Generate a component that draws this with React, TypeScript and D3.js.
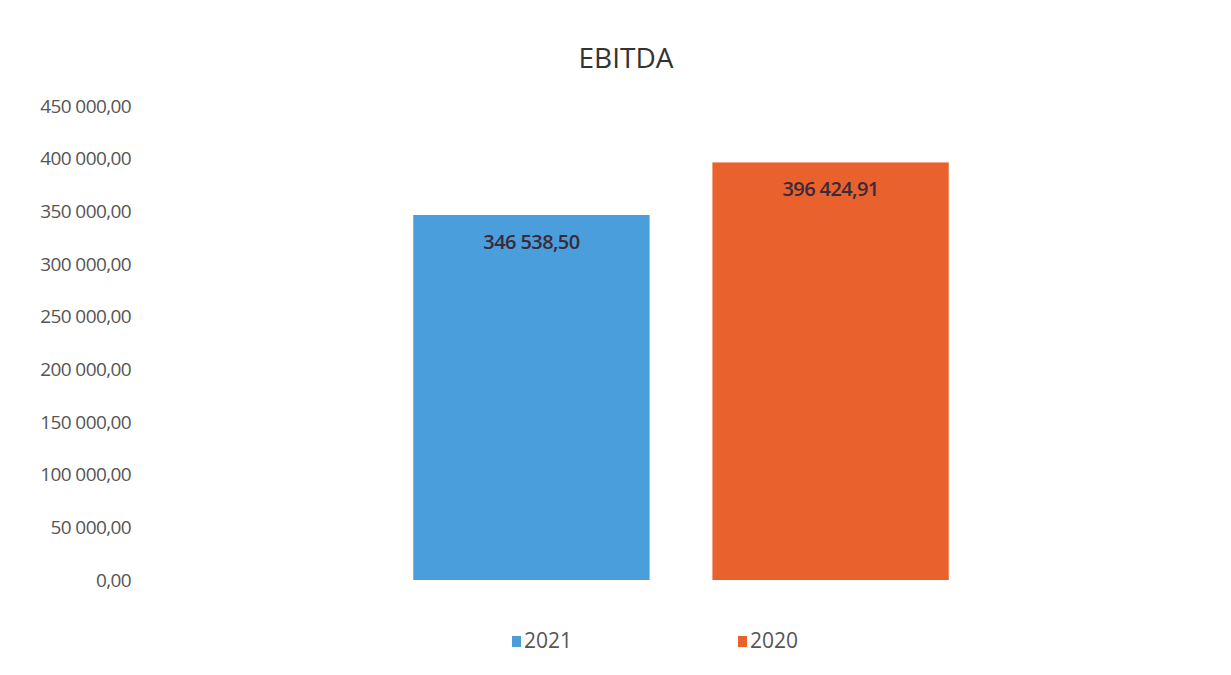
import * as d3 from "d3";
import { useEffect, useRef } from "react";

const series = ["2021", "2020"];
const values = [346538.5, 396424.91];
const colors = ["#4a9edb", "#e9622e"];
const tickValues = [0, 50000, 100000, 150000, 200000, 250000, 300000, 350000, 400000, 450000];
const title = "EBITDA";

const W = 1231;
const H = 675;
const FONT = "'Open Sans', 'Noto Sans', sans-serif";

const locale = d3.formatLocale({
  decimal: ",",
  thousands: " ",
  grouping: [3],
  currency: ["", ""],
});
const fmt = locale.format(",.2f");

export default function App() {
  const ref = useRef<SVGSVGElement>(null);

  useEffect(() => {
    if (!ref.current) return;
    const svg = d3.select(ref.current);
    svg.selectAll("*").remove();

    // plot area
    const left = 150;
    const right = 1212;
    const top = 106;
    const bottom = 580;

    const y = d3.scaleLinear().domain([0, 450000]).range([bottom, top]);
    const x = d3
      .scaleBand<string>()
      .domain(series)
      .range([left, right])
      .paddingInner(0.21)
      .paddingOuter(0.88);

    svg
      .append("rect")
      .attr("width", W)
      .attr("height", H)
      .attr("fill", "#fff");

    // title
    svg
      .append("text")
      .attr("x", 626)
      .attr("y", 68)
      .attr("text-anchor", "middle")
      .attr("font-family", FONT)
      .attr("font-size", 28)
      .attr("fill", "#333")
      .text(title);

    // y axis labels
    svg
      .append("g")
      .selectAll("text")
      .data(tickValues)
      .join("text")
      .attr("x", 131)
      .attr("y", (d) => y(d))
      .attr("dy", "0.35em")
      .attr("text-anchor", "end")
      .attr("font-family", FONT)
      .attr("font-size", 19)
      .attr("letter-spacing", -0.6)
      .attr("fill", "#555")
      .text((d) => fmt(d));

    // bars
    svg
      .append("g")
      .selectAll("rect")
      .data(values)
      .join("rect")
      .attr("x", (_, i) => x(series[i])!)
      .attr("y", (d) => y(d))
      .attr("width", x.bandwidth())
      .attr("height", (d) => y(0) - y(d))
      .attr("fill", (_, i) => colors[i]);

    // value labels
    svg
      .append("g")
      .selectAll("text")
      .data(values)
      .join("text")
      .attr("x", (_, i) => x(series[i])! + x.bandwidth() / 2)
      .attr("y", (d) => y(d) + 34)
      .attr("text-anchor", "middle")
      .attr("font-family", FONT)
      .attr("font-size", 20)
      .attr("font-weight", 600)
      .attr("letter-spacing", -0.6)
      .attr("fill", "#3a2a3a")
      .text((d) => fmt(d));

    // legend
    const legendX = [512, 738];
    const lg = svg
      .append("g")
      .selectAll("g")
      .data(series)
      .join("g")
      .attr("transform", (_, i) => `translate(${legendX[i]},641)`);
    lg.append("rect")
      .attr("x", 0)
      .attr("y", -5)
      .attr("width", 9)
      .attr("height", 11)
      .attr("fill", (_, i) => colors[i]);
    lg.append("text")
      .attr("x", 12)
      .attr("dy", "0.35em")
      .attr("font-family", FONT)
      .attr("font-size", 21)
      .attr("fill", "#555")
      .text((d) => d);
  }, []);

  return (
    <svg
      ref={ref}
      width={W}
      height={H}
      style={{ position: "absolute", left: 0, top: 0, display: "block" }}
    />
  );
}
